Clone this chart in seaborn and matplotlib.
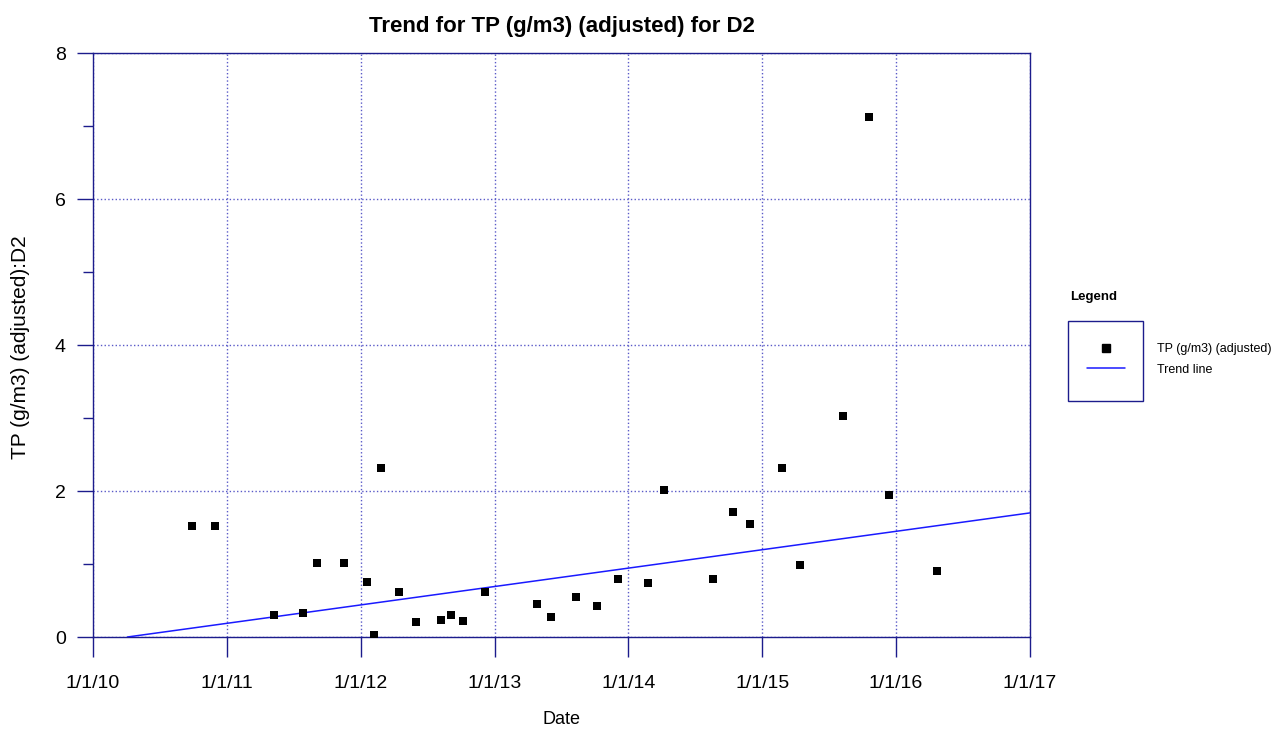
import matplotlib
matplotlib.use("Agg")
import matplotlib.pyplot as plt
import matplotlib.dates as mdates
from matplotlib.lines import Line2D
from matplotlib.patches import Rectangle
from matplotlib.ticker import FixedLocator, FixedFormatter
import seaborn as sns
import pandas as pd
import numpy as np

# ---- data ----
sample_dates = [
    "2010-09-28", "2010-11-29", "2011-05-09", "2011-07-27", "2011-09-05",
    "2011-11-16", "2012-01-19", "2012-02-08", "2012-02-27", "2012-04-14",
    "2012-06-01", "2012-08-08", "2012-09-03", "2012-10-08", "2012-12-06",
    "2013-04-26", "2013-06-04", "2013-08-11", "2013-10-07", "2013-12-03",
    "2014-02-24", "2014-04-09", "2014-08-19", "2014-10-14", "2014-11-30",
    "2015-02-25", "2015-04-14", "2015-08-11", "2015-10-20", "2015-12-13",
    "2016-04-21",
]
tp_values = [
    1.52, 1.52, 0.30, 0.33, 1.01,
    1.01, 0.76, 0.03, 2.32, 0.62,
    0.20, 0.23, 0.30, 0.22, 0.61,
    0.45, 0.28, 0.55, 0.43, 0.79,
    0.74, 2.01, 0.80, 1.71, 1.55,
    2.32, 0.98, 3.03, 7.12, 1.94,
    0.90,
]
trend_dates = ["2010-04-05", "2017-01-01"]
trend_values = [0.0, 1.70]

tick_dates = ["2010-01-01", "2011-01-01", "2012-01-01", "2013-01-01",
              "2014-01-01", "2015-01-01", "2016-01-01", "2017-01-01"]
tick_labels = ["1/1/10", "1/1/11", "1/1/12", "1/1/13",
               "1/1/14", "1/1/15", "1/1/16", "1/1/17"]
y_major = [0, 2, 4, 6, 8]
y_minor = [1, 3, 5, 7]

df = pd.DataFrame({"Date": pd.to_datetime(sample_dates), "TP": tp_values})
tr = pd.DataFrame({"Date": pd.to_datetime(trend_dates), "TP": trend_values})

sns.set_style("white")
regular = ["Liberation Sans", "DejaVu Sans"]
plt.rcParams["font.family"] = regular
plt.rcParams["text.color"] = "black"
plt.rcParams["axes.labelcolor"] = "black"
plt.rcParams["xtick.color"] = "black"
plt.rcParams["ytick.color"] = "black"

axis_col = "#1c1c8c"
grid_col = "#5a5ac8"

fig = plt.figure(figsize=(12.85, 7.33), dpi=100)
ax = fig.add_axes([93/1285, 1-637/733, (1030-93)/1285, (637-53)/733])

sns.lineplot(data=tr, x="Date", y="TP", ax=ax, color="#1a1aff", lw=1.1, zorder=3)
sns.scatterplot(data=df, x="Date", y="TP", ax=ax, marker="s", s=40,
                color="black", linewidth=0, zorder=4)

x0 = mdates.date2num(pd.Timestamp(tick_dates[0]))
x1 = mdates.date2num(pd.Timestamp(tick_dates[-1]))
ax.set_xlim(x0, x1)
ax.set_ylim(0, 8)

tick_nums = [mdates.date2num(pd.Timestamp(d)) for d in tick_dates]
ax.xaxis.set_major_locator(FixedLocator(tick_nums))
ax.xaxis.set_major_formatter(FixedFormatter(tick_labels))
ax.yaxis.set_major_locator(FixedLocator(y_major))
ax.yaxis.set_minor_locator(FixedLocator(y_minor))

ax.tick_params(axis="x", which="major", direction="out", length=14.4, width=1,
               color=axis_col, labelcolor="black", labelsize=14, pad=13, bottom=True)
ax.tick_params(axis="y", which="major", direction="out", length=11.5, width=1,
               color=axis_col, labelcolor="black", labelsize=14, pad=8, left=True)
ax.tick_params(axis="y", which="minor", direction="out", length=7, width=1,
               color=axis_col, left=True)

ax.grid(True, which="major", color=grid_col, linestyle=":", linewidth=1)
ax.set_axisbelow(True)
for sp in ax.spines.values():
    sp.set_visible(True)
    sp.set_color(axis_col)
    sp.set_linewidth(1)

ax.set_xlabel("Date", fontsize=13, color="black")
ax.xaxis.set_label_coords(0.5, (637-711)/584)
ax.set_ylabel("TP (g/m3) (adjusted):D2", fontsize=15, color="black")
ax.yaxis.set_label_coords((30-93)/937, (637-347)/584)
ax.set_title("Trend for TP (g/m3) (adjusted) for D2", fontsize=16,
             fontweight="bold", pad=15, color="black")

# legend
handles = [Line2D([], [], marker="s", color="black", linestyle="none", markersize=6),
           Line2D([], [], color="#1a1aff", lw=1.1)]
leg = fig.legend(handles, ["TP (g/m3) (adjusted)", "Trend line"],
                 loc="upper left", bbox_to_anchor=(1087/1285, 1-343/733),
                 frameon=False, prop={"family": regular, "size": 9},
                 handlelength=3.0, handletextpad=2.6, labelspacing=0.7,
                 borderpad=0, borderaxespad=0)
for t in leg.get_texts():
    t.set_color("black")
fig.patches.append(Rectangle((1068/1285, 1-401/733), 75/1285, 80/733,
                             transform=fig.transFigure, fill=False,
                             edgecolor=axis_col, linewidth=1))
fig.text(1070/1285, 1-297/733, "Legend", fontsize=9.5, fontweight="bold",
         va="center", ha="left", color="black")

fig.savefig("out.png", dpi=100)
